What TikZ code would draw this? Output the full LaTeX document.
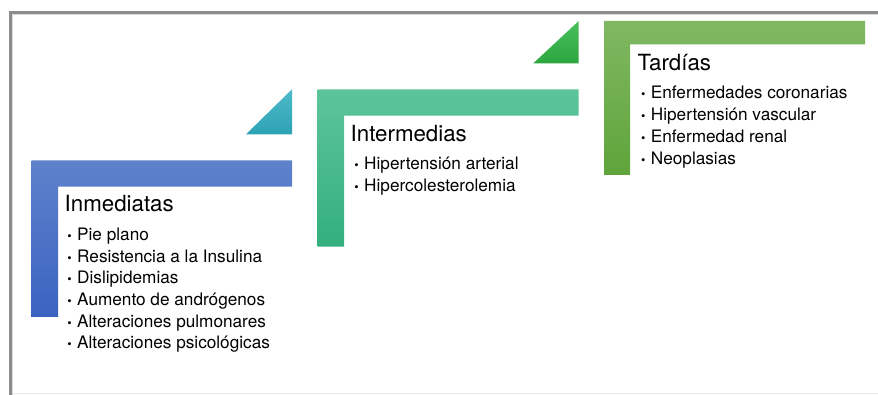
\documentclass[tikz,border=0pt]{standalone}
\usepackage{fontspec}
\setmainfont{TeX Gyre Heros}
\definecolor{blueA}{HTML}{5F82CC}
\definecolor{blueB}{HTML}{3A62C0}
\definecolor{tealA}{HTML}{4DBACB}
\definecolor{tealB}{HTML}{2DA3B3}
\definecolor{mintA}{HTML}{5DC49B}
\definecolor{mintB}{HTML}{33AF7E}
\definecolor{grnA}{HTML}{48C15D}
\definecolor{grnB}{HTML}{2DA640}
\definecolor{leafA}{HTML}{80B862}
\definecolor{leafB}{HTML}{5FA43A}
\begin{document}
\begin{tikzpicture}[x=1pt,y=-1pt,
  ttl/.style={anchor=base west, inner sep=0pt, font=\fontsize{22.3}{26}\selectfont},
  itm/.style={anchor=base west, inner sep=0pt, font=\fontsize{17.2}{20}\selectfont},
  frame/.style={line width=2.5pt, draw=black!45}]
\useasboundingbox (0,0) rectangle (878,395);
\newcommand{\bul}{\llap{{\fontsize{12.5}{12}\selectfont\textbullet}\hspace{5.5pt}}}
% frame
\draw[draw=black!8, line width=0.8pt] (12,393.5) -- (878,393.5);
\draw[frame] (878,12.5) -- (10.5,12.5) -- (10.5,395);
\draw[draw=black!15, line width=1.2pt] (878,14.6) -- (12.6,14.6) -- (12.6,395);
% shapes
\shade[top color=blueA, bottom color=blueB] (31.7,160.3) -- (292,160.3) -- (292,186.7) -- (58,186.7) -- (58,317) -- (31.7,317) -- cycle;
\shade[top color=tealA, bottom color=tealB] (292,89.3) -- (292,134.3) -- (246,134.3) -- cycle;
\shade[top color=mintA, bottom color=mintB] (317.7,89.3) -- (578.7,89.3) -- (578.7,115.7) -- (344,115.7) -- (344,246.7) -- (317.7,246.7) -- cycle;
\shade[top color=grnA, bottom color=grnB] (578.7,21) -- (578.7,63.3) -- (533.3,63.3) -- cycle;
\shade[top color=leafA, bottom color=leafB] (604,21) -- (865,21) -- (865,44.3) -- (630,44.3) -- (630,175) -- (604,175) -- cycle;
% texts: Inmediatas
\node[ttl] (t1) at (64.5,211.7) {Inmediatas};
\node[itm] (a1) at (77,241) {\bul Pie plano};
\node[itm] (a2) at (77,262.5) {\bul Resistencia a la Insulina};
\node[itm] (a3) at (77,284) {\bul Dislipidemias};
\node[itm] (a4) at (77,305.5) {\bul Aumento de andrógenos};
\node[itm] (a5) at (77,327) {\bul Alteraciones pulmonares};
\node[itm] (a6) at (77,348.5) {\bul Alteraciones psicológicas};
% Intermedias
\node[ttl] (t2) at (350.5,141.7) {Intermedias};
\node[itm] (b1) at (364,170) {\bul Hipertensión arterial};
\node[itm] (b2) at (364,191.7) {\bul Hipercolesterolemia};
% Tardias
\node[ttl] (t3) at (637.5,71) {Tardías};
\node[itm] (c1) at (650.7,99) {\bul Enfermedades coronarias};
\node[itm] (c2) at (650.7,121) {\bul Hipertensión vascular};
\node[itm] (c3) at (650.7,143) {\bul Enfermedad renal};
\node[itm] (c4) at (650.7,165) {\bul Neoplasias};
\end{tikzpicture}
\end{document}
